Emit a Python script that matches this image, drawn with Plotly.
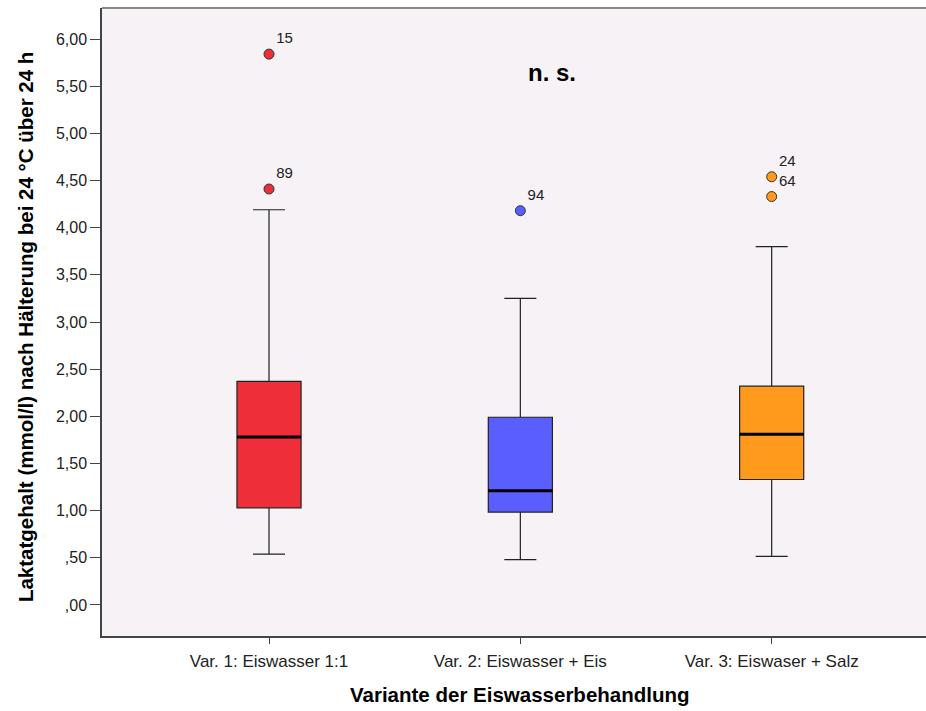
import plotly.graph_objects as go

categories = ["Var. 1: Eiswasser 1:1", "Var. 2: Eiswasser + Eis", "Var. 3: Eiswaser + Salz"]
q1 = [1.03, 0.985, 1.33]
median = [1.78, 1.21, 1.81]
q3 = [2.37, 1.99, 2.32]
lower_whisker = [0.54, 0.48, 0.515]
upper_whisker = [4.19, 3.25, 3.80]
box_colors = ["#EE2F3A", "#5A5EFF", "#FF9A1D"]

outlier_cat = [0, 0, 1, 2, 2]
outlier_val = [5.84, 4.41, 4.18, 4.54, 4.33]
outlier_ids = ["15", "89", "94", "24", "64"]

ytick_vals = [0, 0.5, 1, 1.5, 2, 2.5, 3, 3.5, 4, 4.5, 5, 5.5, 6]
ytick_text = [",00", ",50", "1,00", "1,50", "2,00", "2,50", "3,00", "3,50",
              "4,00", "4,50", "5,00", "5,50", "6,00"]

FONT = "Liberation Sans, Arial, sans-serif"
BOX_W = 0.255

fig = go.Figure()
for i, cat in enumerate(categories):
    fig.add_trace(go.Box(
        x=[i], q1=[q1[i]], median=[median[i]], q3=[q3[i]],
        lowerfence=[lower_whisker[i]], upperfence=[upper_whisker[i]],
        width=BOX_W, whiskerwidth=0.5,
        fillcolor=box_colors[i],
        line=dict(color="#222222", width=1.2),
        boxpoints=False, showlegend=False, hoverinfo="skip",
    ))
    # thick median line
    fig.add_trace(go.Scatter(
        x=[i - BOX_W / 2, i + BOX_W / 2], y=[median[i], median[i]],
        mode="lines", line=dict(color="black", width=3),
        showlegend=False, hoverinfo="skip",
    ))

fig.add_trace(go.Scatter(
    x=outlier_cat, y=outlier_val, mode="markers+text",
    text=outlier_ids, textposition="top right",
    textfont=dict(family=FONT, size=15, color="#222222"),
    marker=dict(size=10, color=[box_colors[c] for c in outlier_cat],
                line=dict(color="#333333", width=1)),
    showlegend=False, hoverinfo="skip",
))

fig.add_annotation(x=1.126, y=5.65, xref="x", yref="y", text="<b>n. s.</b>",
                   showarrow=False, font=dict(family=FONT, size=24, color="black"))
fig.add_annotation(x=1, y=-0.0924, xref="x", yref="paper", yanchor="middle",
                   text="<b>Variante der Eiswasserbehandlung</b>",
                   showarrow=False, font=dict(family=FONT, size=20.5, color="black"))
fig.add_annotation(x=-0.0934, y=0.492, xref="paper", yref="paper",
                   xanchor="center", yanchor="middle", textangle=-90,
                   text="<b>Laktatgehalt (mmol/l) nach Hälterung bei 24 °C über 24 h</b>",
                   showarrow=False, font=dict(family=FONT, size=20.5, color="black"))

fig.update_layout(
    width=926, height=711,
    margin=dict(l=102, r=0, t=8, b=75),
    paper_bgcolor="white", plot_bgcolor="#F6F2F6",
    font=dict(family=FONT, color="#222222"),
    xaxis=dict(
        range=[-0.6645, 2.614], tickmode="array", tickvals=[0, 1, 2],
        ticktext=categories, showgrid=False, zeroline=False,
        showline=True, linecolor="#444444", linewidth=1.5, mirror=False,
        ticks="outside", ticklen=6, tickcolor="#444444",
        tickfont=dict(family=FONT, size=17, color="#222222"),
        ticklabelstandoff=3,
    ),
    yaxis=dict(
        range=[-0.329, 6.329], tickmode="array", tickvals=ytick_vals,
        ticktext=ytick_text, showgrid=False, zeroline=False,
        showline=True, linecolor="#444444", linewidth=1.5,
        ticks="outside", ticklen=10, tickcolor="#444444",
        tickfont=dict(family=FONT, size=16, color="#222222"),
    ),
)
fig.add_shape(type="line", xref="paper", yref="paper", x0=0, x1=1, y0=1, y1=1,
              line=dict(color="#888888", width=2))

fig.write_html("out.html")
